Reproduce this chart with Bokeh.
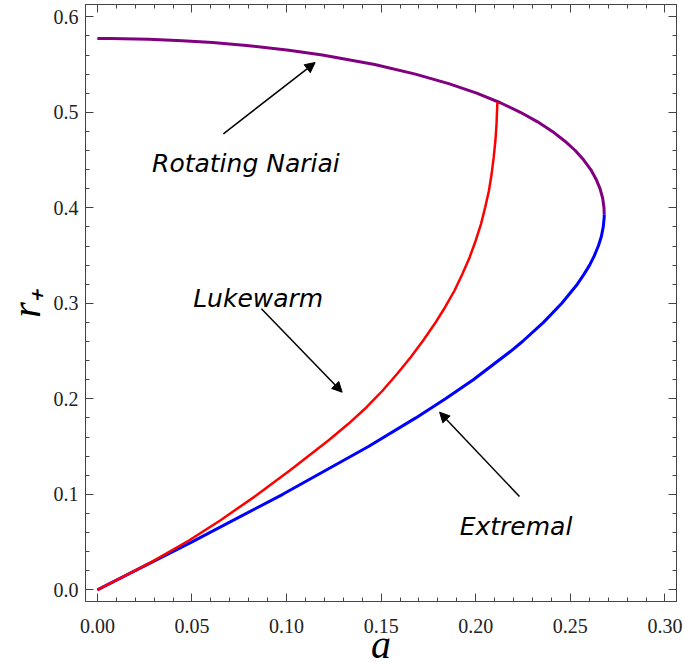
from bokeh.plotting import figure
from bokeh.models import Range1d, LinearAxis, FixedTicker, Arrow, NormalHead, Label, PrintfTickFormatter
from bokeh.embed import file_html
from bokeh.resources import INLINE

# ---- data ----
# Extremal branch (blue): spin a vs horizon radius r+
extremal_a = [0.0, 0.0200, 0.0498, 0.0980, 0.1433, 0.1683, 0.1840, 0.1987, 0.2186, 0.2247,
              0.2358, 0.2455, 0.2537, 0.2571, 0.2602, 0.2627, 0.2648, 0.2664, 0.2674, 0.2679, 0.2679]
extremal_r = [0.0, 0.02, 0.05, 0.10, 0.15, 0.18, 0.20, 0.22, 0.25, 0.26,
              0.28, 0.30, 0.32, 0.33, 0.34, 0.35, 0.36, 0.37, 0.38, 0.39, 0.3933]

# Rotating Nariai branch (purple)
nariai_a = [0.2679, 0.2678, 0.2671, 0.2657, 0.2636, 0.2608, 0.2571, 0.2526, 0.2470, 0.2405,
            0.2327, 0.2236, 0.2130, 0.2005, 0.1857, 0.1681, 0.1466, 0.1189, 0.1012, 0.0788,
            0.0609, 0.0449, 0.0271, 0.0069, 0.0]
nariai_r = [0.3933, 0.40, 0.41, 0.42, 0.43, 0.44, 0.45, 0.46, 0.47, 0.48,
            0.49, 0.50, 0.51, 0.52, 0.53, 0.54, 0.55, 0.56, 0.565, 0.57,
            0.573, 0.575, 0.5765, 0.5773, 0.57735]

# Lukewarm branch (red)
lukewarm_a = [0.0, 0.0150, 0.0285, 0.0484, 0.0649, 0.0839, 0.1017, 0.1221, 0.1327, 0.1423,
              0.1508, 0.1585, 0.1656, 0.1722, 0.1783, 0.1838, 0.1888, 0.1930, 0.1968, 0.2000,
              0.2028, 0.2050, 0.2070, 0.2084, 0.2095, 0.2104, 0.2110, 0.2114, 0.2116]
lukewarm_r = [0.0, 0.0150, 0.0289, 0.0516, 0.0726, 0.0987, 0.1249, 0.1563, 0.1738, 0.1912,
              0.2087, 0.2262, 0.2436, 0.2610, 0.2785, 0.2959, 0.3134, 0.3309, 0.3483, 0.3658,
              0.3832, 0.4006, 0.4181, 0.4356, 0.4530, 0.4705, 0.4880, 0.5089, 0.5108]

x_ticks = [0.00, 0.05, 0.10, 0.15, 0.20, 0.25, 0.30]
x_minor = [i / 100 for i in range(0, 31)]
y_ticks = [0.0, 0.1, 0.2, 0.3, 0.4, 0.5, 0.6]
y_minor = [i / 50 for i in range(0, 31)]

# annotation texts and arrows: (text, x, y) and (x_start, y_start, x_end, y_end)
notes = [("Rotating Nariai", 0.0785, 0.4467),
         ("Lukewarm", 0.0850, 0.3047),
         ("Extremal", 0.2213, 0.0663)]
arrows = [(0.0666, 0.4775, 0.1151, 0.5521),
          (0.0867, 0.2942, 0.1294, 0.2069),
          (0.2231, 0.0977, 0.1809, 0.1860)]

AX = "#444444"

p = figure(width=684, height=669, output_backend="svg", toolbar_location=None,
           x_range=Range1d(-0.00628, 0.30612), y_range=Range1d(-0.01225, 0.61288),
           min_border_left=79, min_border_right=8, min_border_top=4, min_border_bottom=68,
           x_axis_label="a", y_axis_label="r₊")
p.xgrid.visible = False
p.ygrid.visible = False
p.background_fill_color = "white"
p.border_fill_color = "white"
p.outline_line_color = AX

xt = FixedTicker(ticks=x_ticks, minor_ticks=x_minor)
yt = FixedTicker(ticks=y_ticks, minor_ticks=y_minor)


def style_axis(ax, ticker, show_labels, fmt, standoff):
    ax.ticker = ticker
    ax.axis_line_color = AX
    ax.major_tick_line_color = AX
    ax.minor_tick_line_color = AX
    ax.major_tick_in = 8
    ax.major_tick_out = 0
    ax.minor_tick_in = 4
    ax.minor_tick_out = 0
    ax.formatter = PrintfTickFormatter(format=fmt)
    if show_labels:
        ax.major_label_text_font = "Liberation Serif"
        ax.major_label_text_font_size = "20px"
        ax.major_label_text_color = "#222222"
        ax.major_label_standoff = standoff
        ax.axis_label_text_font = "Liberation Serif"
        ax.axis_label_text_font_style = "italic"
        ax.axis_label_text_font_size = "40px"
        ax.axis_label_text_color = "black"
    else:
        ax.major_label_text_font_size = "1px"
        ax.major_label_text_color = None
        ax.major_label_standoff = 0


style_axis(p.xaxis[0], xt, True, "%.2f", 17)
style_axis(p.yaxis[0], yt, True, "%.1f", 7)
p.xaxis[0].axis_label_standoff = -14
p.yaxis[0].axis_label_standoff = 2

top = LinearAxis()
style_axis(top, xt, False, "%.2f", 0)
p.add_layout(top, "above")
right = LinearAxis()
style_axis(right, yt, False, "%.1f", 0)
p.add_layout(right, "right")

p.line(extremal_a, extremal_r, line_color="#0000ff", line_width=3)
p.line(nariai_a, nariai_r, line_color="#800080", line_width=3)
p.line(lukewarm_a, lukewarm_r, line_color="#ff0000", line_width=2.5)

for (xs, ys, xe, ye) in arrows:
    p.add_layout(Arrow(x_start=xs, y_start=ys, x_end=xe, y_end=ye, line_width=1.5,
                       line_color="black",
                       end=NormalHead(size=10, fill_color="black", line_color="black")))

for (txt, tx, ty) in notes:
    p.add_layout(Label(x=tx, y=ty, text=txt, text_font="DejaVu Sans", text_font_style="italic",
                       text_font_size="25px", text_align="center", text_baseline="alphabetic",
                       text_color="black"))

open("out.html", "w").write(file_html(p, INLINE))
